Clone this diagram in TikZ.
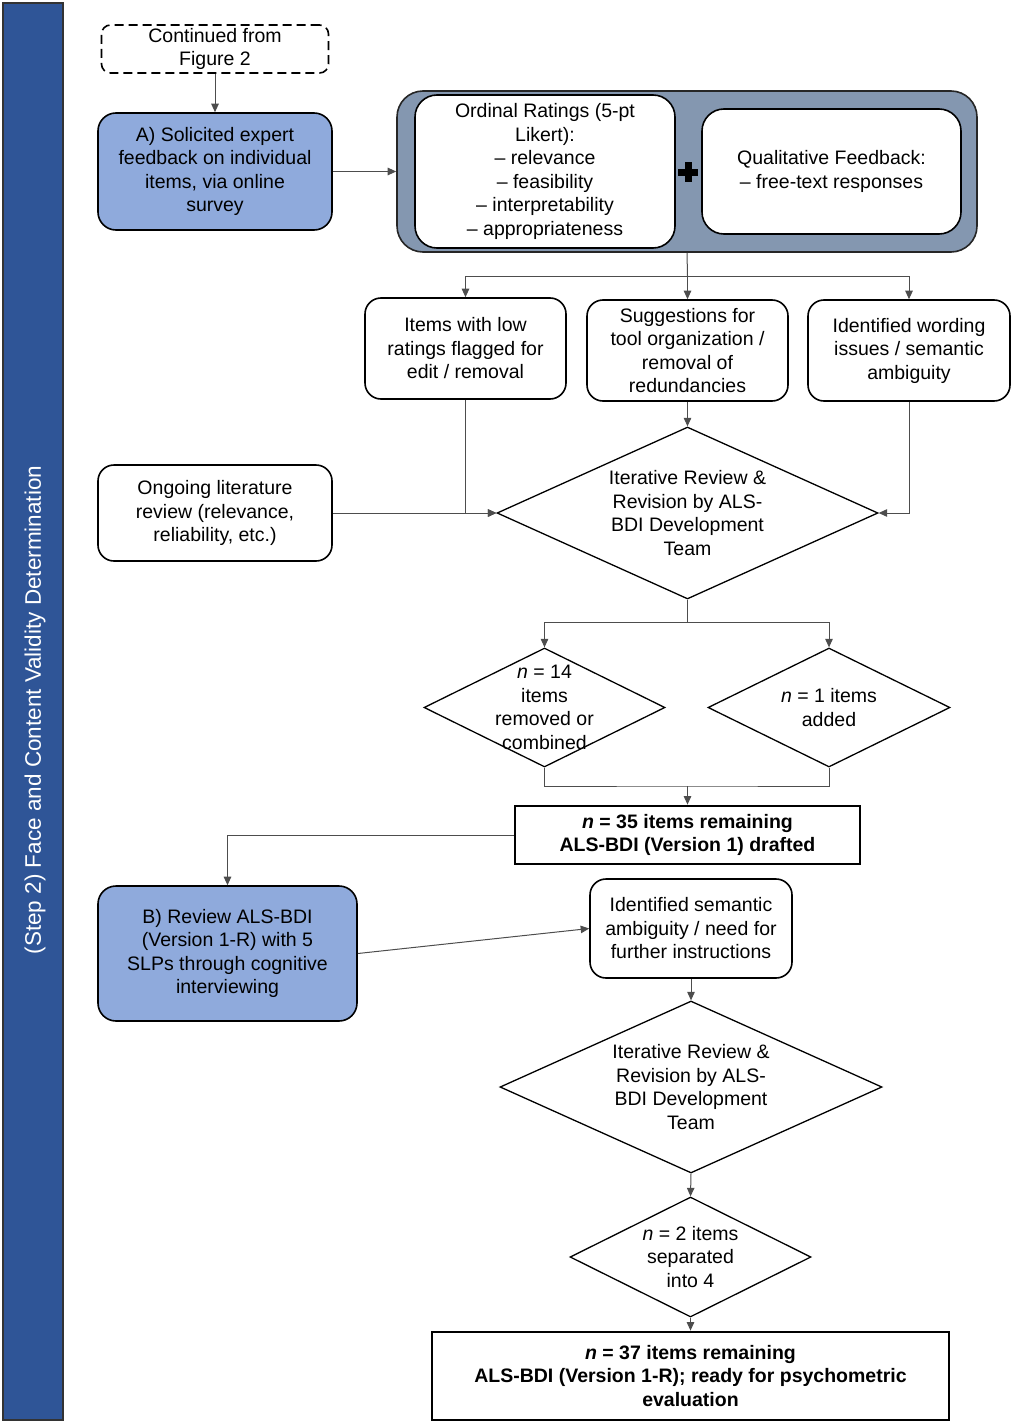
\documentclass[tikz,border=0pt]{standalone}
\usepackage{fontspec}
\setmainfont{Liberation Sans}
\usetikzlibrary{shapes.geometric,arrows.meta}

\definecolor{barblue}{HTML}{2F5597}
\definecolor{stepblue}{HTML}{8FAADC}
\definecolor{groupgray}{HTML}{8497B0}
\definecolor{linegray}{HTML}{4D4D4D}

\tikzset{
  every node/.style={font=\fontsize{19.5}{23.5}\selectfont, align=center},
  box/.style={rectangle, rounded corners=16pt, draw=black, line width=1.6pt, fill=white, inner sep=0pt},
  bluebox/.style={box, fill=stepblue},
  dia/.style={diamond, draw=black, line width=1.3pt, fill=white, inner sep=0pt},
  resultbox/.style={rectangle, draw=black, line width=2.8pt, fill=white, inner sep=0pt,
    font=\fontsize{19.5}{23.5}\selectfont\bfseries},
  conn/.style={draw=linegray, line width=1pt},
  arr/.style={conn, -{Triangle[width=7.5pt,length=8.5pt]}},
}

\begin{document}
\begin{tikzpicture}[x=1pt, y=-1pt]
\useasboundingbox (0,0) rectangle (1013,1426);

% side bar
\fill[barblue, draw=black!80, line width=1.2pt] (3,3) rectangle (63,1420);
\node[rotate=90, text=white, font=\fontsize{22.5}{27}\selectfont] (steptitle) at (35,710) {(Step 2) Face and Content Validity Determination};

% part A
\node[box, dashed, dash pattern=on 9pt off 5pt, rounded corners=9pt, minimum width=227pt, minimum height=48pt] (cont) at (215,49) {Continued from\\Figure 2};
\node[bluebox, rounded corners=18pt, minimum width=234pt, minimum height=117pt] (solicit) at (215,171.5) {A) Solicited expert\\feedback on individual\\items, via online\\survey};

\node[rectangle, rounded corners=26pt, draw=black!85, line width=1.6pt, fill=groupgray, minimum width=580pt, minimum height=161pt] (ratings) at (687,171.5) {};
\node[box, rounded corners=22pt, minimum width=260pt, minimum height=153pt] (ordinal) at (545,171.5) {Ordinal Ratings (5-pt\\Likert):\\\textendash{} relevance\\\textendash{} feasibility\\\textendash{} interpretability\\\textendash{} appropriateness};
\node[box, rounded corners=22pt, minimum width=259pt, minimum height=125pt] (qualit) at (831.5,171.5) {Qualitative Feedback:\\\textendash{} free-text responses};
\fill (678,168.5) rectangle (698,175.5);
\fill (684.5,162) rectangle (691.5,182);

\node[box, minimum width=201pt, minimum height=101pt] (lowrate) at (465.5,348.5) {Items with low\\ratings flagged for\\edit / removal};
\node[box, minimum width=201pt, minimum height=101pt] (suggest) at (687.5,350.5) {Suggestions for\\tool organization /\\removal of\\redundancies};
\node[box, minimum width=202pt, minimum height=101pt] (wording) at (909,350.5) {Identified wording\\issues / semantic\\ambiguity};
\node[box, minimum width=234pt, minimum height=96pt] (litrev) at (215,513) {Ongoing literature\\review (relevance,\\reliability, etc.)};

\node[dia, minimum width=381pt, minimum height=172pt,
  label={center:{Iterative Review \&\\Revision by ALS-\\BDI Development\\Team}}] (review1) at (687.5,513) {};
\node[dia, minimum width=241pt, minimum height=119pt,
  label={center:{\textit{n} = 14\\items\\removed or\\combined}}] (removed) at (544.5,707.5) {};
\node[dia, minimum width=242pt, minimum height=119pt,
  label={center:{\textit{n} = 1 items\\added}}] (added) at (829,707.5) {};

\node[resultbox, minimum width=345pt, minimum height=58pt] (version1) at (687.5,835) {\textit{n} = 35 items remaining\\ALS-BDI (Version 1) drafted};

% part B
\node[bluebox, rounded corners=18pt, minimum width=259pt, minimum height=135pt] (interview) at (227.5,953.5) {B) Review ALS-BDI\\(Version 1-R) with 5\\SLPs through cognitive\\interviewing};
\node[box, minimum width=202pt, minimum height=99pt] (semantic) at (691,928.5) {Identified semantic\\ambiguity / need for\\further instructions};
\node[dia, minimum width=382pt, minimum height=172pt,
  label={center:{Iterative Review \&\\Revision by ALS-\\BDI Development\\Team}}] (review2) at (691,1087) {};
\node[dia, minimum width=241pt, minimum height=120pt,
  label={center:{\textit{n} = 2 items\\separated\\into 4}}] (separated) at (690.5,1257) {};
\node[resultbox, minimum width=517pt, minimum height=88pt] (version1r) at (690.5,1376) {\textit{n} = 37 items remaining\\ALS-BDI (Version 1-R); ready for psychometric\\evaluation};

% connectors
\coordinate (split1) at (687.5,276);
\coordinate (split2) at (687.5,622);
\coordinate (merge2) at (687.5,786);
\draw[arr] (cont) -- (solicit);
\draw[arr] (solicit.east) -- (ratings.west);
\draw[conn] (ratings.south) -- (split1);
\draw[arr] (split1) -| (lowrate.north);
\draw[arr] (split1) -| (wording.north);
\draw[arr] (split1) -- (suggest.north);
\draw[arr] (suggest.south) -- (review1.north);
\draw[arr] (lowrate.south) |- (review1.west);
\draw[arr] (litrev.east) -- (review1.west);
\draw[arr] (wording.south) |- (review1.east);
\draw[conn] (review1.south) -- (split2);
\draw[arr] (split2) -| (removed.north);
\draw[arr] (split2) -| (added.north);
\draw[conn] (removed.south) |- (merge2) -| (added.south);
\draw[arr] (merge2) -- (version1.north);
\draw[arr] (version1.west) -| (interview.north);
\draw[arr] (interview.east) -- (semantic.west);
\draw[arr] (semantic.south) -- (review2.north);
\draw[arr] (review2.south) -- (separated.north);
\draw[arr] (separated.south) -- (version1r.north);
\end{tikzpicture}
\end{document}
